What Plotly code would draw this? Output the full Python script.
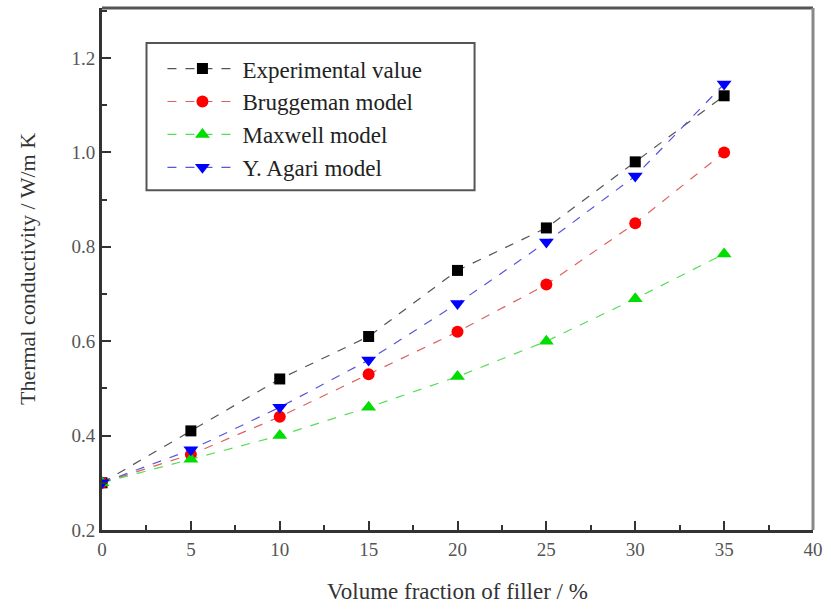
import plotly.graph_objects as go

x_vals = [0, 5, 10, 15, 20, 25, 30, 35]
experimental = [0.30, 0.41, 0.52, 0.61, 0.75, 0.84, 0.98, 1.12]
bruggeman = [0.30, 0.36, 0.44, 0.53, 0.62, 0.72, 0.85, 1.00]
maxwell = [0.30, 0.35, 0.40, 0.46, 0.525, 0.60, 0.69, 0.785]
agari = [0.30, 0.37, 0.46, 0.56, 0.68, 0.81, 0.95, 1.145]

series = [
    ("Experimental value", experimental, "#000000", "#555555", "square", 11),
    ("Bruggeman model", bruggeman, "#ff0000", "#e06060", "circle", 12),
    ("Maxwell model", maxwell, "#00dd00", "#55dd55", "triangle-up", 13),
    ("Y. Agari model", agari, "#0000ff", "#5555dd", "triangle-down", 13),
]

fig = go.Figure()
for name, ys, mc, lc, sym, sz in series:
    fig.add_trace(go.Scatter(
        x=x_vals, y=ys, name=name, mode="lines+markers",
        line=dict(color=lc, width=1.2, dash="dash"),
        marker=dict(color=mc, symbol=sym, size=sz),
    ))

font_family = "Liberation Serif"

fig.update_layout(
    width=831, height=610,
    margin=dict(l=102, r=18, t=8, b=80),
    paper_bgcolor="white", plot_bgcolor="white",
    font=dict(family=font_family, color="#222222"),
    showlegend=True,
    legend=dict(
        x=0.085, y=0.925, xanchor="left", yanchor="top",
        borderwidth=0, bgcolor="rgba(0,0,0,0)",
        font=dict(size=23, family=font_family, color="#222222"),
        itemwidth=70, tracegroupgap=0,
    ),
    xaxis=dict(
        range=[0, 40], dtick=5, tick0=0,
        showgrid=False, zeroline=False,
        showline=True, linecolor="#333333", linewidth=3,
        ticks="inside", ticklen=9, tickwidth=2, tickcolor="#333333",
        minor=dict(ticks="inside", dtick=2.5, ticklen=5, tickwidth=2, tickcolor="#333333"),
        tickfont=dict(size=19, color="#555555", family=font_family),
        title=dict(text="Volume fraction of filler / %", font=dict(size=23, color="#333333", family=font_family), standoff=25),
    ),
    yaxis=dict(
        range=[0.2, 1.306], dtick=0.2, tick0=0.2, tickformat=".1f",
        showgrid=False, zeroline=False,
        showline=True, linecolor="#333333", linewidth=3,
        ticks="inside", ticklen=9, tickwidth=2, tickcolor="#333333",
        minor=dict(ticks="inside", dtick=0.1, ticklen=5, tickwidth=2, tickcolor="#333333"),
        tickfont=dict(size=19, color="#555555", family=font_family),
        title=dict(text="Thermal conductivity / W/m K", font=dict(size=22, color="#333333", family=font_family), standoff=30),
    ),
    shapes=[
        dict(type="line", xref="paper", yref="paper", x0=0, x1=1, y0=1, y1=1,
             line=dict(color="#555555", width=3)),
        dict(type="line", xref="paper", yref="paper", x0=1, x1=1, y0=0, y1=1,
             line=dict(color="#888888", width=3)),
        dict(type="rect", xref="paper", yref="paper", x0=0.0626, x1=0.524, y0=0.651, y1=0.933,
             line=dict(color="#555555", width=2), layer="below"),
    ],
)

fig.write_html("out.html")
